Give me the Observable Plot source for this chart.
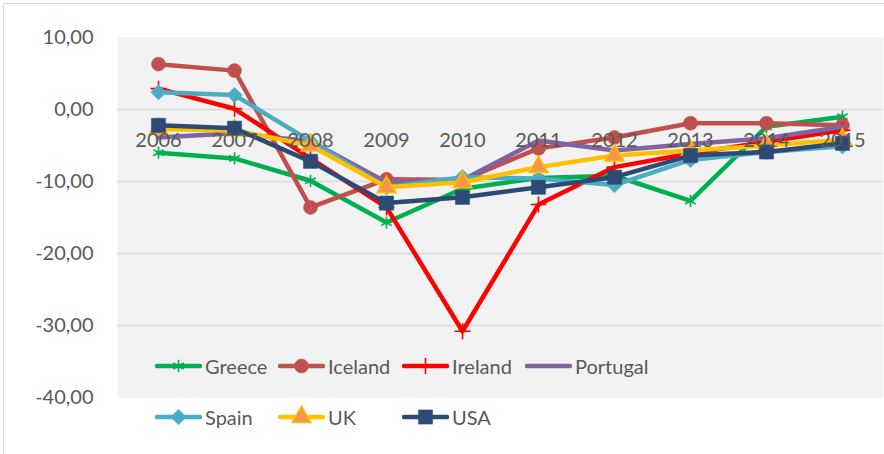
<!DOCTYPE html>
<html>
<head>
<meta charset="utf-8">
<script src="https://cdn.jsdelivr.net/npm/d3@7"></script>
<script src="https://cdn.jsdelivr.net/npm/@observablehq/plot@0.6"></script>
<style>
  html, body { margin: 0; padding: 0; background: #fff; }
  body { width: 884px; height: 454px; overflow: hidden; position: relative; font-family: Lato, "Open Sans", sans-serif; }
  #border { position: absolute; left: 3px; top: 3px; width: 920px; height: 480px; border: 1.5px solid #D9D9D9; box-sizing: border-box; }
  #chart { position: absolute; left: 0; top: 0; }
  #legend { position: absolute; left: 0; top: 0; width: 884px; height: 454px; pointer-events: none; }
  .item { position: absolute; display: flex; align-items: center; height: 30px; color: #595959; font-size: 20px; }
  .item svg { margin-right: 3px; }
</style>
</head>
<body>
<div id="border"></div>
<div id="chart"></div>
<div id="legend"></div>
<script>
const years = [2006, 2007, 2008, 2009, 2010, 2011, 2012, 2013, 2014, 2015];
const countries = ["Greece", "Iceland", "Ireland", "Portugal", "Spain", "UK", "USA"];
const greece   = [-6.0, -6.8, -9.9, -15.7, -11.0, -9.5, -9.2, -12.7, -2.4, -1.0];
const iceland  = [6.3, 5.4, -13.6, -9.7, -9.8, -5.4, -3.9, -1.9, -1.9, -2.2];
const ireland  = [2.9, 0.1, -6.8, -13.6, -30.8, -13.2, -8.0, -6.1, -4.5, -2.9];
const portugal = [-3.9, -3.3, -4.4, -10.1, -9.8, -4.3, -5.7, -4.8, -4.0, -2.4];
const spain    = [2.4, 2.0, -4.4, -10.8, -9.4, -9.6, -10.5, -7.0, -5.9, -5.1];
const uk       = [-2.7, -2.9, -5.0, -10.8, -10.1, -8.0, -6.4, -5.7, -5.0, -4.2];
const usa      = [-2.2, -2.6, -7.2, -13.0, -12.2, -10.8, -9.4, -6.4, -5.9, -4.7];
const yTicks = [10, 0, -10, -20, -30, -40];
const gridValues = [0, -10, -20, -30];

const seriesValues = [greece, iceland, ireland, portugal, spain, uk, usa];
const colors  = ["#00B050", "#C0504D", "#FF0000", "#8064A2", "#4BACC6", "#FFC000", "#2C4A74"];
const symbols = ["asterisk", "circle", "plus", null, "diamond2", "triangle", "square"];
const markFill   = [null, "#C0504D", null, null, "#4BACC6", "#F79646", "#2C4A74"];
const markStroke = ["#00B050", "#C0504D", "#FF0000", null, "#4BACC6", "#FFC000", "#2C4A74"];
const markR      = [5.8, 7, 5.2, 0, 7, 7, 8];

const rows = [];
countries.forEach((c, i) => years.forEach((y, j) => rows.push({country: c, year: y, value: seriesValues[i][j]})));

const fmt = v => v.toFixed(2).replace(".", ",");
const strokeW = s => (s === "asterisk" || s === "plus") ? 1.6 : (s === "triangle" ? 1.5 : 0.5);

const marks = [
  Plot.frame({fill: "#F2F2F2", stroke: null}),
  Plot.ruleY(gridValues, {stroke: "#D9D9D9", strokeWidth: 1.5}),
  Plot.axisY({ticks: yTicks, tickSize: 0, tickPadding: 24, tickFormat: fmt, fontSize: 20, fill: "#595959", label: null})
];
countries.forEach((c, i) => {
  const data = rows.filter(r => r.country === c);
  marks.push(Plot.line(data, {x: "year", y: "value", stroke: colors[i], strokeWidth: 4.5, strokeLinejoin: "round", strokeLinecap: "round"}));
  if (symbols[i]) {
    marks.push(Plot.dot(data, {
      x: "year", y: "value", symbol: symbols[i], r: markR[i],
      fill: markFill[i] || "none",
      stroke: markStroke[i],
      strokeWidth: strokeW(symbols[i])
    }));
  }
});
marks.push(Plot.text(years, {x: d => d, y: 0, dy: 31, text: d => String(d), fontSize: 20, fill: "#595959", textAnchor: "middle", lineAnchor: "middle"}));

const chart = Plot.plot({
  width: 884, height: 454,
  marginLeft: 117, marginRight: 1, marginTop: 37, marginBottom: 57,
  style: {fontFamily: "Lato, 'Open Sans', sans-serif", background: "transparent", overflow: "visible"},
  x: {type: "point", domain: years, padding: 0.5, axis: null},
  y: {domain: [-40, 10], axis: null},
  marks
});
document.getElementById("chart").append(chart);

// Legend (HTML overlay)
const legend = document.getElementById("legend");
const legendX = [155, 278, 402, 525];
const legendY = [366, 417];
const symMap = {asterisk: d3.symbolAsterisk, circle: d3.symbolCircle, plus: d3.symbolPlus, diamond2: d3.symbolDiamond2, triangle: d3.symbolTriangle, square: d3.symbolSquare};
countries.forEach((c, i) => {
  const col = i < 4 ? i : i - 4;
  const row = i < 4 ? 0 : 1;
  const div = document.createElement("div");
  div.className = "item";
  div.style.left = legendX[col] + "px";
  div.style.top = (legendY[row] - 15) + "px";
  const sw = d3.create("svg").attr("width", 47).attr("height", 30);
  sw.append("line").attr("x1", 2).attr("x2", 45).attr("y1", 15).attr("y2", 15)
    .attr("stroke", colors[i]).attr("stroke-width", 4.5).attr("stroke-linecap", "round");
  if (symbols[i]) {
    const r = markR[i];
    sw.append("path").attr("transform", "translate(23.5,15)")
      .attr("d", d3.symbol(symMap[symbols[i]], Math.PI * r * r)())
      .attr("fill", markFill[i] || "none")
      .attr("stroke", markStroke[i])
      .attr("stroke-width", strokeW(symbols[i]));
  }
  div.append(sw.node());
  const t = document.createElement("span");
  t.textContent = c;
  div.append(t);
  legend.append(div);
});
</script>
</body>
</html>
